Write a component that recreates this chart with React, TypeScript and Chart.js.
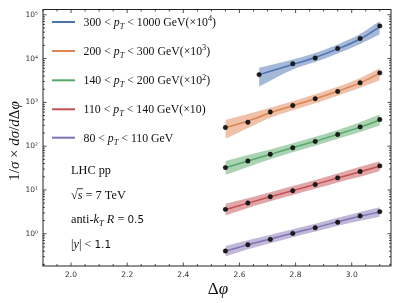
import React, { useEffect, useRef } from "react";
import { Chart, registerables } from "chart.js";
Chart.register(...registerables);

// ---------- data ----------
const xAll = [2.55, 2.63, 2.71, 2.79, 2.87, 2.95, 3.03, 3.1];
const xBlue = [2.67, 2.79, 2.87, 2.95, 3.03, 3.1];

// 300 < pT < 1000 GeV (x10^4)
const blueData = [4300, 7600, 10300, 17000, 28700, 55700];
const blueTheory = [4300, 7300, 10600, 16600, 28000, 52900];
const blueUpper = [6200, 9500, 13400, 21000, 36300, 72000];
const blueLower = [2300, 5650, 8300, 13100, 21600, 36000];

// 200 < pT < 300 GeV (x10^3)
const orangeData = [267, 352, 603, 851, 1213, 1777, 2800, 4713];
const orangeTheory = [265, 375, 580, 840, 1210, 1790, 2780, 4600];
const orangeUpper = [396, 540, 753, 1063, 1530, 2264, 3608, 5971];
const orangeLower = [147, 260, 447, 664, 957, 1415, 2142, 3194];

// 140 < pT < 200 GeV (x10^2)
const greenData = [32.4, 45.9, 65.2, 92, 128.5, 185, 275, 405];
const greenTheory = [32, 46, 65, 92, 129, 186, 272, 395];
const greenUpper = [46, 62.9, 84.4, 116.4, 163, 235, 353, 527];
const greenLower = [22.2, 33.6, 50.1, 72.7, 102, 147, 210, 296];

// 110 < pT < 140 GeV (x10)
const redData = [3.61, 5.05, 7.0, 9.6, 13.3, 18.9, 26.3, 35.4];
const redTheory = [3.55, 5.0, 7.0, 9.7, 13.4, 18.8, 26.0, 35.0];
const redUpper = [4.86, 6.49, 8.86, 12.27, 16.95, 23.8, 33.7, 45.4];
const redLower = [2.6, 3.85, 5.53, 7.67, 10.6, 14.9, 20.0, 27.0];

// 80 < pT < 110 GeV
const purpleData = [0.404, 0.563, 0.743, 1.02, 1.37, 1.83, 2.56, 3.2];
const purpleTheory = [0.4, 0.56, 0.76, 1.03, 1.38, 1.88, 2.5, 3.15];
const purpleUpper = [0.528, 0.708, 0.95, 1.27, 1.7, 2.32, 3.16, 4.03];
const purpleLower = [0.303, 0.443, 0.608, 0.836, 1.12, 1.53, 1.98, 2.46];

const xTicks = [2.0, 2.2, 2.4, 2.6, 2.8, 3.0];
const yTicks = [1, 10, 100, 1000, 10000, 100000];
const yTickLabels = ["10⁰", "10¹", "10²", "10³", "10⁴", "10⁵"];

const X_MIN = 1.9;
const X_MAX = 3.14;
const Y_MIN = 0.1837;
const Y_MAX = 131826;

const SERIF = '"Liberation Serif", "DejaVu Serif", serif';
const SANS = '"DejaVu Sans", sans-serif';

type Seg = { t: string; st?: "r" | "i" | "s"; sc?: number; dy?: number; ol?: boolean };

const series = [
  { x: xBlue, d: blueData, th: blueTheory, up: blueUpper, lo: blueLower, color: "#4C72B0", rgb: "76,114,176",
    label: [{ t: "300 < " }, { t: "p", st: "i" }, { t: "T", st: "i", sc: 0.7, dy: 0.25 }, { t: " < 1000 GeV(×10" }, { t: "4", sc: 0.7, dy: -0.4 }, { t: ")" }] as Seg[] },
  { x: xAll, d: orangeData, th: orangeTheory, up: orangeUpper, lo: orangeLower, color: "#DD8452", rgb: "221,132,82",
    label: [{ t: "200 < " }, { t: "p", st: "i" }, { t: "T", st: "i", sc: 0.7, dy: 0.25 }, { t: " < 300 GeV(×10" }, { t: "3", sc: 0.7, dy: -0.4 }, { t: ")" }] as Seg[] },
  { x: xAll, d: greenData, th: greenTheory, up: greenUpper, lo: greenLower, color: "#55A868", rgb: "85,168,104",
    label: [{ t: "140 < " }, { t: "p", st: "i" }, { t: "T", st: "i", sc: 0.7, dy: 0.25 }, { t: " < 200 GeV(×10" }, { t: "2", sc: 0.7, dy: -0.4 }, { t: ")" }] as Seg[] },
  { x: xAll, d: redData, th: redTheory, up: redUpper, lo: redLower, color: "#C44E52", rgb: "196,78,82",
    label: [{ t: "110 < " }, { t: "p", st: "i" }, { t: "T", st: "i", sc: 0.7, dy: 0.25 }, { t: " < 140 GeV(×10)" }] as Seg[] },
  { x: xAll, d: purpleData, th: purpleTheory, up: purpleUpper, lo: purpleLower, color: "#8172B3", rgb: "129,114,179",
    label: [{ t: "80 < " }, { t: "p", st: "i" }, { t: "T", st: "i", sc: 0.7, dy: 0.25 }, { t: " < 110 GeV" }] as Seg[] },
];

function fontFor(s: Seg, size: number) {
  const sz = size * (s.sc ?? 1);
  if (s.st === "i") return `italic ${sz}px ${SERIF}`;
  if (s.st === "s") return `${sz}px ${SANS}`;
  return `${sz}px ${SERIF}`;
}

function drawRich(ctx: CanvasRenderingContext2D, x: number, y: number, segs: Seg[], size: number, align = "left") {
  let w = 0;
  for (const s of segs) {
    ctx.font = fontFor(s, size);
    w += ctx.measureText(s.t).width;
  }
  let cx = align === "center" ? x - w / 2 : x;
  ctx.textBaseline = "alphabetic";
  ctx.textAlign = "left";
  for (const s of segs) {
    ctx.font = fontFor(s, size);
    const sw = ctx.measureText(s.t).width;
    ctx.fillText(s.t, cx, y + (s.dy ?? 0) * size);
    if (s.ol) {
      ctx.save();
      ctx.lineWidth = 0.8;
      ctx.strokeStyle = ctx.fillStyle as string;
      ctx.beginPath();
      ctx.moveTo(cx - 1, y - size * 0.8);
      ctx.lineTo(cx + sw + 0.5, y - size * 0.8);
      ctx.stroke();
      ctx.restore();
    }
    cx += sw;
  }
  return w;
}

const framePlugin = {
  id: "frame",
  afterDatasetsDraw(chart: any) {
    const { ctx, chartArea: a, scales } = chart;
    const xs = scales.x;
    const ys = scales.y;
    ctx.save();
    ctx.strokeStyle = "#222";
    ctx.lineWidth = 1;
    ctx.strokeRect(a.left, a.top, a.right - a.left, a.bottom - a.top);
    ctx.lineWidth = 0.8;
    ctx.beginPath();
    for (let i = 38; i <= 62; i++) {
      const v = i * 0.05;
      if (v < X_MIN || v > X_MAX) continue;
      const len = i % 4 === 0 ? 3.5 : 2;
      const p = xs.getPixelForValue(v);
      ctx.moveTo(p, a.bottom);
      ctx.lineTo(p, a.bottom - len);
      ctx.moveTo(p, a.top);
      ctx.lineTo(p, a.top + len);
    }
    for (let n = -1; n <= 5; n++) {
      for (let k = 1; k <= 9; k++) {
        const v = k * Math.pow(10, n);
        if (v < Y_MIN || v > Y_MAX) continue;
        const len = k === 1 ? 3.5 : 2;
        const p = ys.getPixelForValue(v);
        ctx.moveTo(a.left, p);
        ctx.lineTo(a.left + len, p);
        ctx.moveTo(a.right, p);
        ctx.lineTo(a.right - len, p);
      }
    }
    ctx.stroke();
    ctx.restore();
  },
  afterDraw(chart: any) {
    const { ctx } = chart;
    ctx.save();
    ctx.fillStyle = "#111";
    // legend
    const ly = [22, 51, 80.3, 109.3, 137.7];
    series.forEach((s, i) => {
      ctx.strokeStyle = s.color;
      ctx.lineWidth = 2;
      ctx.beginPath();
      ctx.moveTo(52, ly[i]);
      ctx.lineTo(75, ly[i]);
      ctx.stroke();
      drawRich(ctx, 83.5, ly[i] + 4, s.label, 11.8);
    });
    // annotations
    const fs = 12.3;
    drawRich(ctx, 71, 173.5, [{ t: "LHC pp" }], fs);
    drawRich(ctx, 71, 198.5, [{ t: "√" }, { t: "s", st: "i", ol: true }, { t: " = 7 TeV" }], fs);
    drawRich(ctx, 71, 222.5, [{ t: "anti-" }, { t: "k", st: "i" }, { t: "T", st: "i", sc: 0.7, dy: 0.25 }, { t: " R", st: "i" }, { t: " = " }, { t: "0.5", st: "s", sc: 0.85 }], fs);
    drawRich(ctx, 71, 247.5, [{ t: "|" }, { t: "y", st: "i" }, { t: "| < " }, { t: "1.1", st: "s", sc: 0.85 }], fs);
    // y title
    ctx.save();
    ctx.translate(19, 141);
    ctx.rotate(-Math.PI / 2);
    drawRich(ctx, 0, 0, [
      { t: "1/" }, { t: "σ", st: "i" }, { t: " × " }, { t: "d", st: "i" }, { t: "σ", st: "i" },
      { t: "/" }, { t: "d", st: "i" }, { t: "Δ" }, { t: "φ", st: "i" },
    ], 15, "center");
    ctx.restore();
    // x title
    drawRich(ctx, 218, 294, [{ t: "Δ" }, { t: "φ", st: "i" }], 17, "center");
    ctx.restore();
  },
};

export default function App() {
  const ref = useRef<HTMLCanvasElement | null>(null);
  useEffect(() => {
    document.body.style.margin = "0";
    const datasets: any[] = [];
    series.forEach((s) => {
      const pts = (arr: number[]) => s.x.map((x, i) => ({ x, y: arr[i] }));
      datasets.push({
        data: pts(s.d), showLine: false, pointRadius: 2.2, pointBackgroundColor: "#1c1c1c",
        pointBorderColor: "#000", pointBorderWidth: 0.5, order: 0,
      });
      datasets.push({
        data: pts(s.th), borderColor: s.color, borderWidth: 1.5, pointRadius: 0,
        tension: 0.4, cubicInterpolationMode: "monotone", fill: false, order: 1,
      });
      datasets.push({
        data: pts(s.up), borderWidth: 0, borderColor: "rgba(0,0,0,0)", pointRadius: 0,
        backgroundColor: `rgba(${s.rgb},0.5)`, tension: 0.4, cubicInterpolationMode: "monotone",
        fill: "+1", order: 2,
      });
      datasets.push({
        data: pts(s.lo), borderWidth: 0, borderColor: "rgba(0,0,0,0)", pointRadius: 0,
        tension: 0.4, cubicInterpolationMode: "monotone", fill: false, order: 2,
      });
    });
    const chart = new Chart(ref.current as HTMLCanvasElement, {
      type: "line",
      data: { datasets },
      options: {
        animation: false,
        responsive: false,
        layout: { padding: { left: 0, right: 7, top: 7, bottom: 0 } },
        plugins: { legend: { display: false }, tooltip: { enabled: false } },
        scales: {
          x: {
            type: "linear", min: X_MIN, max: X_MAX,
            grid: { display: false, drawTicks: false },
            border: { display: false },
            afterBuildTicks: (sc: any) => { sc.ticks = xTicks.map((v) => ({ value: v })); },
            afterFit: (sc: any) => { sc.height = 37; },
            ticks: {
              autoSkip: false, maxRotation: 0, padding: 5, color: "#333",
              font: { family: SANS, size: 7.5 },
              callback: (v: any) => Number(v).toFixed(1),
            },
          },
          y: {
            type: "logarithmic", min: Y_MIN, max: Y_MAX,
            grid: { display: false, drawTicks: false },
            border: { display: false },
            afterBuildTicks: (sc: any) => { sc.ticks = yTicks.map((v) => ({ value: v })); },
            afterFit: (sc: any) => { sc.width = 43; },
            ticks: {
              autoSkip: false, padding: 5, color: "#333",
              font: { family: SANS, size: 7.5 },
              callback: (v: any) => {
                const i = yTicks.indexOf(Number(v));
                return i >= 0 ? yTickLabels[i] : "";
              },
            },
          },
        },
      },
      plugins: [framePlugin],
    });
    return () => chart.destroy();
  }, []);
  return (
    <div style={{ position: "fixed", left: 0, top: 0, width: 398, height: 303 }}>
      <canvas ref={ref} width={398} height={303} />
    </div>
  );
}
